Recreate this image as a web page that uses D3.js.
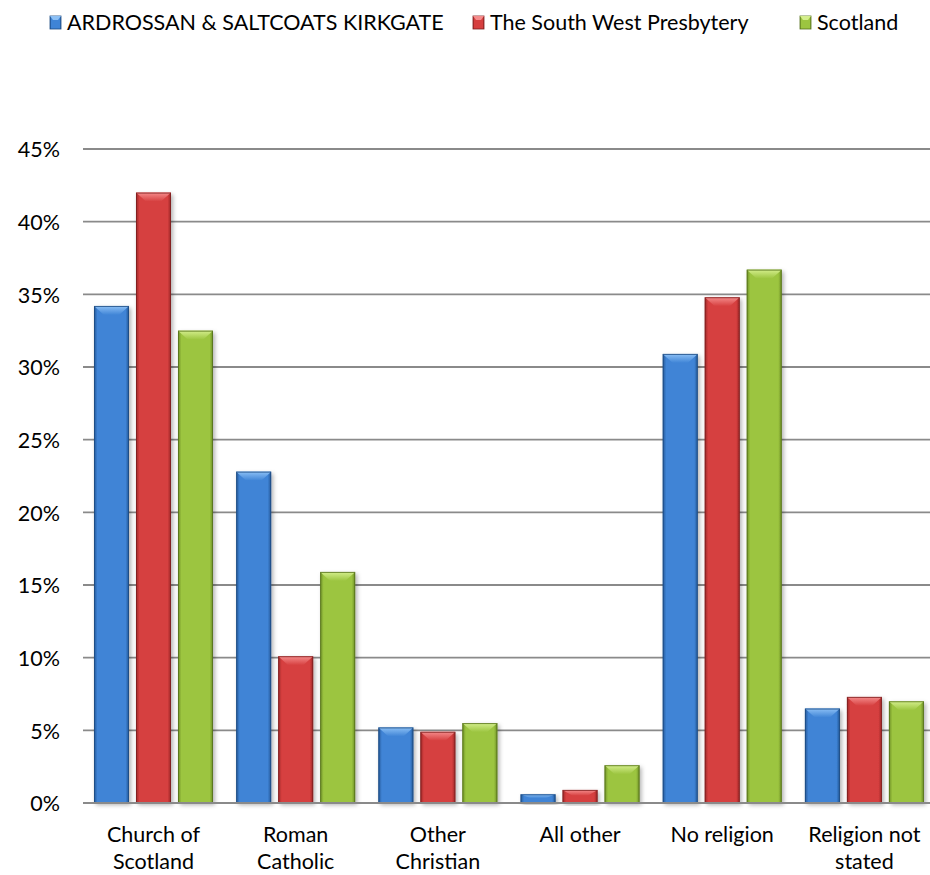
<!DOCTYPE html>
<html>
<head>
<meta charset="utf-8">
<script src="https://cdn.jsdelivr.net/npm/d3@7/dist/d3.min.js"></script>
<style>
  html, body { margin: 0; padding: 0; background: #fff; }
  svg { display: block; }
  text { font-family: Lato, "Open Sans", sans-serif; fill: #000; }
</style>
</head>
<body>
<svg id="chart" width="930" height="875"></svg>
<script>
// ---- data ----
const categories = ["Church of\nScotland", "Roman\nCatholic", "Other\nChristian", "All other", "No religion", "Religion not\nstated"];
const seriesNames = ["ARDROSSAN & SALTCOATS KIRKGATE", "The South West Presbytery", "Scotland"];
const ardrossan = [34.2, 22.8, 5.2, 0.6, 30.9, 6.5];
const southWest = [42.0, 10.1, 4.9, 0.9, 34.8, 7.3];
const scotland  = [32.5, 15.9, 5.5, 2.6, 36.7, 7.0];
const yTicks = [0, 5, 10, 15, 20, 25, 30, 35, 40, 45];

const seriesValues = [ardrossan, southWest, scotland];
const palette = [
  { mid: "#3f84d6", light: "#8cc0f5", dark: "#235796", edge: "#1d4a80" },
  { mid: "#d63f3f", light: "#f58c8c", dark: "#9b2727", edge: "#7c1f1f" },
  { mid: "#9cc540", light: "#d4ee8c", dark: "#6e8f26", edge: "#55701c" }
];

const svg = d3.select("#chart");
const defs = svg.append("defs");

const filt = defs.append("filter").attr("id", "shadow").attr("x", "-30%").attr("y", "-10%").attr("width", "160%").attr("height", "130%");
filt.append("feDropShadow").attr("dx", 2).attr("dy", 2).attr("stdDeviation", 2).attr("flood-color", "#000").attr("flood-opacity", 0.3);

palette.forEach((p, i) => {
  const g = defs.append("linearGradient").attr("id", "body" + i).attr("x1", "0").attr("x2", "1").attr("y1", "0").attr("y2", "0");
  g.append("stop").attr("offset", "0%").attr("stop-color", p.dark);
  g.append("stop").attr("offset", "10%").attr("stop-color", p.mid);
  g.append("stop").attr("offset", "90%").attr("stop-color", p.mid);
  g.append("stop").attr("offset", "100%").attr("stop-color", p.dark);
  const t = defs.append("linearGradient").attr("id", "top" + i).attr("x1", "0").attr("x2", "0").attr("y1", "0").attr("y2", "1");
  t.append("stop").attr("offset", "0%").attr("stop-color", p.light);
  t.append("stop").attr("offset", "100%").attr("stop-color", p.mid);
});

// ---- scales ----
const y = d3.scaleLinear().domain([0, 45]).range([803, 149]);
const x0 = d3.scaleBand().domain(categories).range([82.4, 935.5]).paddingInner(0).paddingOuter(0);
const bw = x0.bandwidth();
const x1 = d3.scaleBand().domain(seriesNames).range([(bw - 119) / 2, (bw + 119) / 2]).paddingInner(7 / 42).paddingOuter(0);

// ---- gridlines & y axis ----
const yAxis = d3.axisLeft(y).tickValues(yTicks).tickSize(0).tickFormat(d => d + "%");
const gridG = svg.append("g");
gridG.selectAll("line").data(yTicks).join("line")
  .attr("x1", 83).attr("x2", 930)
  .attr("y1", d => y(d)).attr("y2", d => y(d))
  .attr("stroke", "#8a8a8a").attr("stroke-width", 1.8);

const ya = svg.append("g").attr("transform", "translate(60,0)").call(yAxis);
ya.select(".domain").remove();
ya.selectAll("text").attr("font-size", "21.5px").attr("font-family", "Lato, sans-serif").attr("fill", "#000").attr("dy", "0.36em").attr("x", 0);

// ---- bars ----
const barsG = svg.append("g");
seriesNames.forEach((s, si) => {
  const vals = seriesValues[si];
  vals.forEach((v, ci) => {
    const cat = categories[ci];
    const xl = x0(cat) + x1(s);
    const xr = xl + x1.bandwidth();
    const yt = y(v);
    const yb = y(0);
    const h = yb - yt;
    const b = Math.min(9, h * 0.45);
    const g = barsG.append("g");
    g.append("rect").attr("x", xl).attr("y", yt).attr("width", xr - xl).attr("height", h)
      .attr("fill", `url(#body${si})`).attr("filter", "url(#shadow)");
    g.append("polygon")
      .attr("points", [[xl, yt], [xr, yt], [xr - 10, yt + b], [xl + 10, yt + b]].map(p => p.join(",")).join(" "))
      .attr("fill", `url(#top${si})`);
    g.append("rect").attr("x", xl + 0.5).attr("y", yt + 0.5).attr("width", xr - xl - 1).attr("height", Math.max(0, h - 1))
      .attr("fill", "none").attr("stroke", palette[si].edge).attr("stroke-width", 1).attr("stroke-opacity", 0.8);
  });
});

// baseline
svg.append("line").attr("x1", 83).attr("x2", 930).attr("y1", y(0)).attr("y2", y(0))
  .attr("stroke", "#8a8a8a").attr("stroke-width", 1.8);

// ---- x labels ----
const xl = svg.append("g");
categories.forEach(c => {
  const lines = c.split("\n");
  const t = xl.append("text").attr("text-anchor", "middle").attr("font-size", "21.5px")
    .attr("x", x0(c) + bw / 2).attr("y", 842);
  lines.forEach((ln, i) => {
    t.append("tspan").attr("x", x0(c) + bw / 2).attr("y", 842 + i * 27).text(ln);
  });
});

// ---- legend ----
const legend = svg.append("g");
const legendStarts = [50, 473, 800];
seriesNames.forEach((s, i) => {
  const lx = legendStarts[i];
  legend.append("rect").attr("x", lx).attr("y", 16).attr("width", 11).attr("height", 13)
    .attr("fill", `url(#body${i})`).attr("stroke", palette[i].edge).attr("stroke-width", 0.8);
  legend.append("polygon")
    .attr("points", [[lx, 16], [lx + 11, 16], [lx + 8, 20], [lx + 3, 20]].map(p => p.join(",")).join(" "))
    .attr("fill", palette[i].light);
  legend.append("text").attr("x", lx + 17).attr("y", 30).attr("font-size", "21.5px").text(s);
});
</script>
</body>
</html>
